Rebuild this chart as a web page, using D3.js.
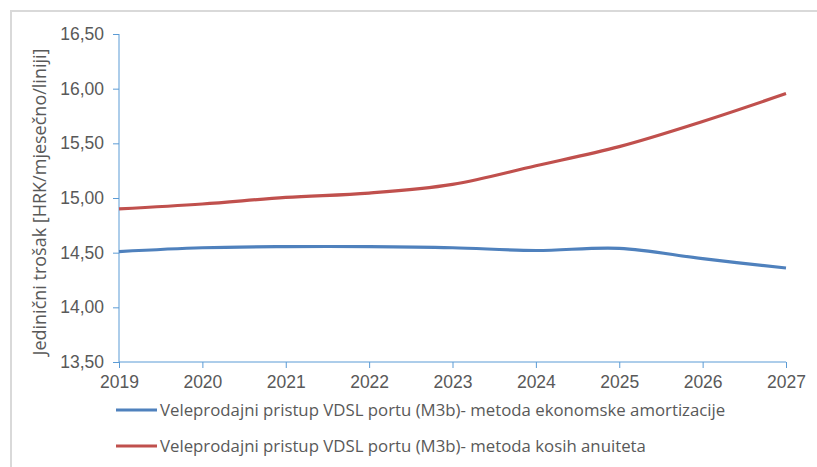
<!DOCTYPE html>
<html>
<head>
<meta charset="utf-8">
<script src="https://cdn.jsdelivr.net/npm/d3@7"></script>
<style>
  body { margin: 0; background: #fff; }
  svg { font-family: 'Open Sans', sans-serif; }
</style>
</head>
<body>
<div class="visualization"></div>
<script>
const years = [2019, 2020, 2021, 2022, 2023, 2024, 2025, 2026, 2027]
const amortizacija = [14.51, 14.545, 14.555, 14.555, 14.545, 14.52, 14.54, 14.445, 14.36]
const anuiteti = [14.90, 14.945, 15.005, 15.045, 15.125, 15.295, 15.47, 15.70, 15.955]
const yTicks = [13.5, 14.0, 14.5, 15.0, 15.5, 16.0, 16.5]
const seriesNames = [
  'Veleprodajni pristup VDSL portu (M3b)- metoda ekonomske amortizacije',
  'Veleprodajni pristup VDSL portu (M3b)- metoda kosih anuiteta'
]
const colors = ['#4f81bd', '#c0504d']
const yTitle = 'Jedinični trošak [HRK/mjesečno/liniji]'

const WIDTH = 817
const HEIGHT = 467
const margin = {top: 34, right: 31, bottom: 105, left: 119}
const plotW = WIDTH - margin.left - margin.right
const plotH = HEIGHT - margin.top - margin.bottom

const svg = d3.select('.visualization')
  .append('svg')
  .attr('width', WIDTH)
  .attr('height', HEIGHT)

// outer chart border (only top and left visible in the crop)
svg.append('path')
  .attr('d', 'M11,' + HEIGHT + 'V11H' + WIDTH)
  .attr('fill', 'none')
  .attr('stroke', '#d9d9d9')
  .attr('stroke-width', 2)

const g = svg.append('g')
  .attr('transform', 'translate(' + margin.left + ',' + margin.top + ')')

const x = d3.scaleLinear().domain([years[0], years[years.length - 1]]).range([0, plotW])
const y = d3.scaleLinear().domain([13.5, 16.5]).range([plotH, 0])

const fmt = d => d3.format('.2f')(d).replace('.', ',')

const axisColor = '#5b9bd5'
const textColor = '#595959'

const yAxis = g.append('g')
  .call(d3.axisLeft(y).tickValues(yTicks).tickSize(6).tickPadding(9).tickFormat(fmt))
yAxis.select('.domain').attr('stroke', axisColor).attr('d', 'M0,' + plotH + 'V0')
yAxis.selectAll('line').attr('stroke', axisColor)
yAxis.selectAll('text').attr('fill', textColor).style('font-size', '17.5px')

const xAxis = g.append('g')
  .attr('transform', 'translate(0,' + plotH + ')')
  .call(d3.axisBottom(x).tickValues(years).tickSize(6).tickPadding(8).tickFormat(d3.format('d')))
xAxis.select('.domain').attr('stroke', axisColor).attr('d', 'M0,0H' + plotW)
xAxis.selectAll('line').attr('stroke', axisColor)
xAxis.selectAll('text').attr('fill', textColor).style('font-size', '17.5px')

const line = d3.line()
  .x((d, i) => x(years[i]))
  .y(d => y(d))
  .curve(d3.curveCatmullRom.alpha(0.5))

;[amortizacija, anuiteti].forEach((s, i) => {
  g.append('path')
    .datum(s)
    .attr('fill', 'none')
    .attr('stroke', colors[i])
    .attr('stroke-width', 3.2)
    .attr('d', line)
})

svg.append('text')
  .attr('transform', 'translate(46,' + (margin.top + 168) + ') rotate(-90)')
  .attr('text-anchor', 'middle')
  .attr('fill', textColor)
  .style('font-size', '18px')
  .text(yTitle)

const legend = svg.append('g')
seriesNames.forEach((name, i) => {
  const ly = 410 + i * 36
  legend.append('line')
    .attr('x1', 116).attr('x2', 157)
    .attr('y1', ly).attr('y2', ly)
    .attr('stroke', colors[i])
    .attr('stroke-width', 3.2)
  legend.append('text')
    .attr('x', 160).attr('y', ly + 6)
    .attr('fill', textColor)
    .style('font-size', '16.8px')
    .text(name)
})
</script>
</body>
</html>
